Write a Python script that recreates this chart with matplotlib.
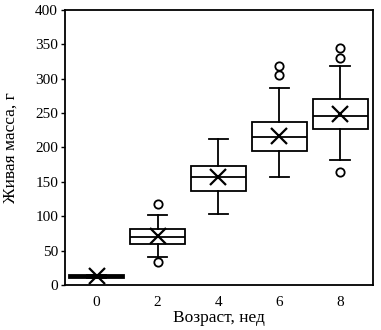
import matplotlib
matplotlib.use("Agg")
import matplotlib.pyplot as plt

plt.rcParams['font.family'] = ['Liberation Serif', 'DejaVu Serif']

ages = ["0", "2", "4", "6", "8"]
q1 = [10, 59.6, 137, 195, 226.4]
med = [12, 70.3, 157.6, 215.8, 246.3]
q3 = [14.5, 81, 173, 236.6, 271]
whislo = [10, 40.2, 103, 156.6, 181.8]
whishi = [14.5, 101.8, 212, 286, 318.5]
means = [13, 71, 157.6, 217, 249]
fliers = [[], [117.8, 34], [], [318, 305], [345, 330, 164.8]]

stats = []
for i in range(len(ages)):
    stats.append(dict(label=ages[i], q1=q1[i], med=med[i], q3=q3[i],
                      whislo=whislo[i], whishi=whishi[i], mean=means[i],
                      fliers=fliers[i]))

fig = plt.figure(figsize=(3.81, 3.30), dpi=100)
ax = fig.add_axes([0.1706, 0.1364, 0.8084, 0.8333])

bp = ax.bxp(stats, positions=range(len(ages)), widths=0.9, capwidths=0.32,
            showmeans=True, patch_artist=True,
            boxprops=dict(facecolor='white', edgecolor='black', linewidth=1.3),
            medianprops=dict(color='black', linewidth=1.3),
            whiskerprops=dict(color='black', linewidth=1.3),
            capprops=dict(color='black', linewidth=1.3),
            meanprops=dict(marker='x', markeredgecolor='black', markersize=11,
                           markeredgewidth=1.6),
            flierprops=dict(marker='o', markerfacecolor='none',
                            markeredgecolor='black', markersize=6,
                            markeredgewidth=1.3))
bp['boxes'][0].set_facecolor('black')

ax.set_xlim(-0.52, 4.54)
ax.set_ylim(0, 400)
ax.set_yticks(range(0, 401, 50))
ax.set_xticks(range(len(ages)))
ax.set_xticklabels(ages)
ax.tick_params(axis='x', length=0, labelsize=11, pad=8)
ax.tick_params(axis='y', length=3, width=1, labelsize=11, pad=2)
for s in ax.spines.values():
    s.set_linewidth(1.3)

ax.set_xlabel("Возраст, нед", fontsize=12.5)
ax.set_ylabel("Живая масса, г", fontsize=12.5)
ax.xaxis.set_label_coords(0.5, -0.092)
ax.yaxis.set_label_coords(-0.15, 0.5)

fig.savefig("out.png", dpi=100)
